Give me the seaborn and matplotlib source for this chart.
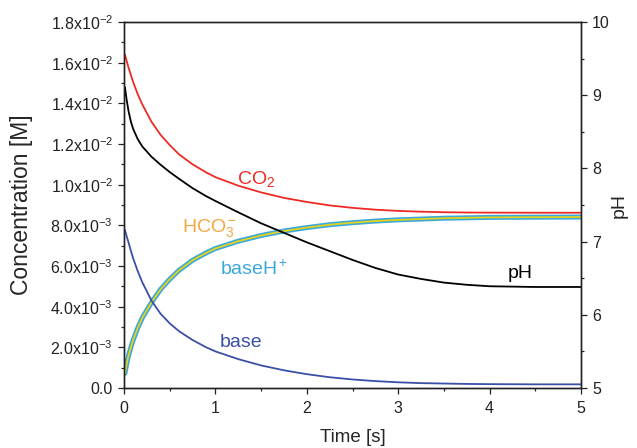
import numpy as np
import matplotlib
matplotlib.use("Agg")
import matplotlib.pyplot as plt
from matplotlib.ticker import MultipleLocator, FuncFormatter
import seaborn as sns

# time axis [s]
time_s = [0.01, 0.03, 0.05, 0.075, 0.1, 0.15, 0.2, 0.3, 0.4, 0.5, 0.6, 0.75,
          0.9, 1.0, 1.25, 1.5, 1.75, 2.0, 2.25, 2.5, 2.75, 3.0, 3.25, 3.5,
          3.75, 4.0, 4.5, 5.0]

# concentrations in units of 1e-3 M
co2 = [16.4, 16.07, 15.75, 15.4, 15.05, 14.45, 13.95, 13.1, 12.45, 11.95, 11.5, 11.0,
       10.6, 10.37, 9.95, 9.62, 9.35, 9.15, 8.98, 8.86, 8.77, 8.71, 8.67, 8.645,
       8.63, 8.625, 8.62, 8.62]
hco3 = [0.72, 1.2, 1.6, 2.0, 2.35, 2.95, 3.45, 4.2, 4.85, 5.35, 5.78, 6.28,
        6.65, 6.86, 7.22, 7.5, 7.72, 7.89, 8.03, 8.13, 8.21, 8.27, 8.31, 8.35,
        8.37, 8.39, 8.4, 8.41]
base_h = [0.72, 1.2, 1.6, 2.0, 2.35, 2.95, 3.45, 4.2, 4.85, 5.35, 5.78, 6.28,
          6.65, 6.86, 7.22, 7.5, 7.72, 7.89, 8.03, 8.13, 8.21, 8.27, 8.31, 8.35,
          8.37, 8.39, 8.4, 8.41]
base = [7.77, 7.45, 7.15, 6.75, 6.38, 5.75, 5.2, 4.3, 3.65, 3.18, 2.8, 2.36,
        2.0, 1.8, 1.42, 1.11, 0.87, 0.68, 0.53, 0.42, 0.34, 0.28, 0.24, 0.22,
        0.2, 0.19, 0.18, 0.18]
# pH on the right axis
ph = [9.11, 8.93, 8.78, 8.64, 8.54, 8.4, 8.3, 8.16, 8.05, 7.95, 7.86, 7.73,
      7.62, 7.555, 7.4, 7.25, 7.12, 6.99, 6.87, 6.75, 6.64, 6.55, 6.49, 6.44,
      6.41, 6.39, 6.38, 6.38]

c_red = "#ee2a24"
c_yellow = "#e2d31c"
c_cyan = "#3ba8dc"
c_dark = "#3a4fa6"
c_orange = "#f5a742"

sns.set_style("ticks")
plt.rcParams["font.family"] = ["Liberation Sans", "DejaVu Sans"]
plt.rcParams["mathtext.fontset"] = "custom"
plt.rcParams["mathtext.rm"] = "Liberation Sans"
plt.rcParams["mathtext.it"] = "Liberation Sans:italic"
plt.rcParams["mathtext.default"] = "regular"

t = np.array(time_s)
scale = 1e-3

fig = plt.figure(figsize=(6.37, 4.48), dpi=100)
ax = fig.add_axes([124 / 637, 60 / 448, 457 / 637, 366 / 448])
ax2 = ax.twinx()

sns.lineplot(x=t, y=np.array(co2) * scale, ax=ax, color=c_red, lw=1.3)
sns.lineplot(x=t, y=np.array(base_h) * scale, ax=ax, color=c_cyan, lw=3.6)
sns.lineplot(x=t, y=np.array(hco3) * scale, ax=ax, color=c_yellow, lw=1.3)
sns.lineplot(x=t, y=np.array(base) * scale, ax=ax, color=c_dark, lw=1.3)
sns.lineplot(x=t, y=ph, ax=ax2, color="black", lw=1.3)

ax.set_xlim(0, 5)
ax.set_ylim(0, 0.018)
ax2.set_ylim(5, 10)


def sci_fmt(v, pos):
    if v <= 1e-12:
        return "0.0"
    e = int(np.floor(np.log10(v) + 1e-9))
    m = v / 10 ** e
    return f"{m:.1f}x10$^{{{e}}}$"


ax.yaxis.set_major_locator(MultipleLocator(0.002))
ax.yaxis.set_minor_locator(MultipleLocator(0.001))
ax.yaxis.set_major_formatter(FuncFormatter(sci_fmt))
ax.xaxis.set_major_locator(MultipleLocator(1))
ax.xaxis.set_minor_locator(MultipleLocator(0.5))
ax2.yaxis.set_major_locator(MultipleLocator(1))
ax2.yaxis.set_minor_locator(MultipleLocator(0.5))

for a in (ax, ax2):
    a.tick_params(which="major", direction="out", length=4.5, width=0.9,
                  labelsize=11.5, colors="#222222")
    a.tick_params(which="minor", direction="out", length=2.5, width=0.9)
    for s in a.spines.values():
        s.set_visible(True)
        s.set_linewidth(1.0)
        s.set_color("#222222")
ax.tick_params(axis="x", pad=5)

ax.set_xlabel("Time [s]", fontsize=13.5)
ax.set_ylabel("Concentration [M]", fontsize=16.5)
ax2.set_ylabel("pH", fontsize=14)
ax.xaxis.set_label_coords(0.5, -0.112)
ax.yaxis.set_label_coords(-0.20, 0.5)
ax2.yaxis.set_label_coords(1.066, 0.5)

ax.text(1.236, 10.03e-3, "CO$_2$", color=c_red, fontsize=14)
ax.text(0.635, 7.67e-3, "HCO$_3^-$", color=c_orange, fontsize=14)
ax.text(1.05, 5.56e-3, "baseH$^+$", color=c_cyan, fontsize=14)
ax.text(1.05, 2.02e-3, "base", color=c_dark, fontsize=14)
ax.text(4.2, 5.4e-3, "pH", color="black", fontsize=14)

fig.savefig("out.png", dpi=100)
